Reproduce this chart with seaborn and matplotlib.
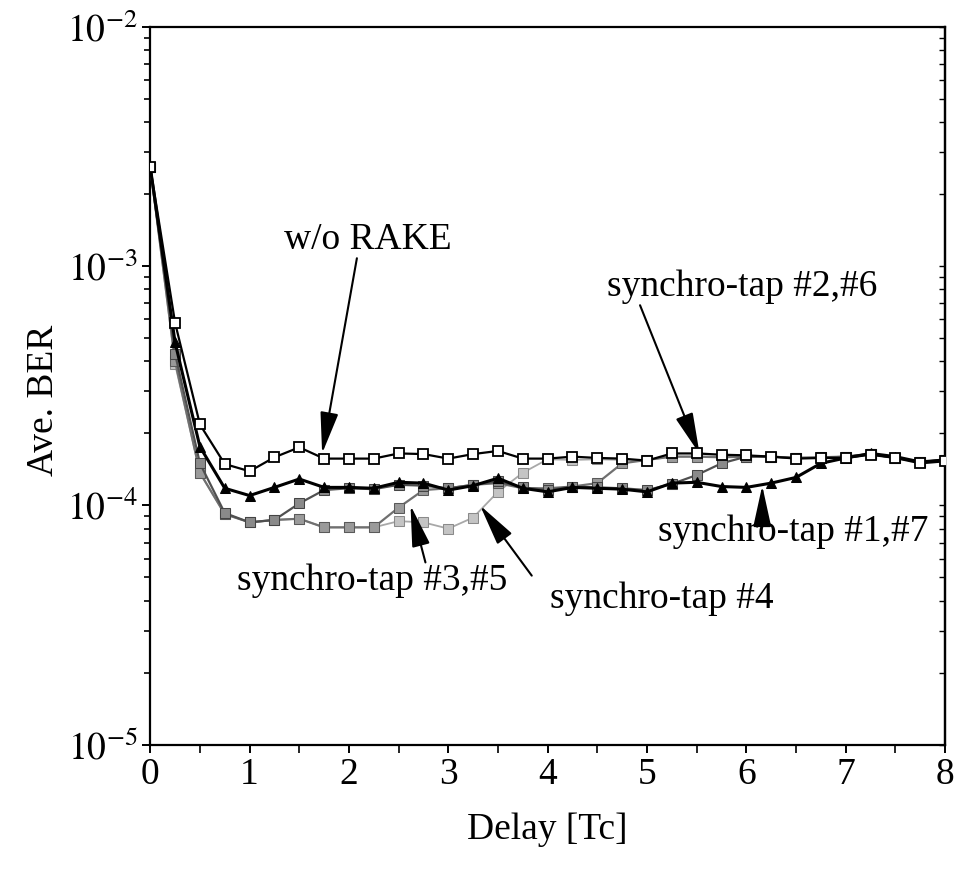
import numpy as np
import pandas as pd
import matplotlib
matplotlib.use('Agg')
import matplotlib.pyplot as plt
from matplotlib.ticker import FixedLocator, FuncFormatter, LogLocator, NullFormatter
import seaborn as sns

# data (delay step 0.25 Tc)
delay = [i * 0.25 for i in range(33)]

wo_rake = [2.6e-3, 5.8e-4, 2.18e-4, 1.49e-4, 1.39e-4, 1.59e-4, 1.75e-4, 1.57e-4, 1.57e-4,
           1.57e-4, 1.65e-4, 1.64e-4, 1.57e-4, 1.64e-4, 1.69e-4, 1.57e-4, 1.57e-4, 1.60e-4,
           1.58e-4, 1.57e-4, 1.54e-4, 1.65e-4, 1.65e-4, 1.63e-4, 1.62e-4, 1.60e-4, 1.57e-4,
           1.58e-4, 1.58e-4, 1.63e-4, 1.58e-4, 1.50e-4, 1.53e-4]
tap_1_7 = [2.6e-3, 4.8e-4, 1.76e-4, 1.18e-4, 1.10e-4, 1.19e-4, 1.29e-4, 1.19e-4, 1.19e-4,
           1.18e-4, 1.25e-4, 1.24e-4, 1.16e-4, 1.21e-4, 1.30e-4, 1.18e-4, 1.14e-4, 1.19e-4,
           1.18e-4, 1.17e-4, 1.14e-4, 1.24e-4, 1.25e-4, 1.20e-4, 1.19e-4, 1.24e-4, 1.31e-4,
           1.50e-4, 1.58e-4, 1.65e-4, 1.60e-4, 1.52e-4, 1.55e-4]
tap_2_6 = [2.6e-3, 4.3e-4, 1.50e-4, 9.3e-5, 8.5e-5, 8.7e-5, 1.02e-4, 1.16e-4, 1.18e-4,
           1.17e-4, 1.22e-4, 1.21e-4, 1.18e-4, 1.22e-4, 1.26e-4, 1.19e-4, 1.16e-4, 1.20e-4,
           1.19e-4, 1.18e-4, 1.16e-4, 1.23e-4, 1.34e-4, 1.50e-4, 1.60e-4, 1.60e-4, 1.58e-4,
           1.59e-4, 1.60e-4, 1.64e-4, 1.58e-4, 1.52e-4, 1.55e-4]
tap_3_5 = [2.6e-3, 4.0e-4, 1.37e-4, 9.2e-5, 8.5e-5, 8.7e-5, 8.8e-5, 8.1e-5, 8.1e-5,
           8.1e-5, 9.8e-5, 1.16e-4, 1.18e-4, 1.22e-4, 1.24e-4, 1.18e-4, 1.18e-4, 1.20e-4,
           1.24e-4, 1.50e-4, 1.55e-4, 1.60e-4, 1.60e-4, 1.59e-4, 1.60e-4, 1.60e-4, 1.58e-4,
           1.58e-4, 1.60e-4, 1.64e-4, 1.58e-4, 1.52e-4, 1.55e-4]
tap_4 = [2.6e-3, 3.9e-4, 1.37e-4, 9.2e-5, 8.5e-5, 8.7e-5, 8.8e-5, 8.1e-5, 8.1e-5,
         8.1e-5, 8.6e-5, 8.5e-5, 8.0e-5, 8.9e-5, 1.14e-4, 1.37e-4, 1.56e-4, 1.55e-4,
         1.56e-4, 1.55e-4, 1.55e-4, 1.60e-4, 1.60e-4, 1.60e-4, 1.60e-4, 1.60e-4, 1.58e-4,
         1.58e-4, 1.60e-4, 1.64e-4, 1.58e-4, 1.52e-4, 1.55e-4]

sns.set_style('ticks')
plt.rcParams['font.family'] = ['Liberation Serif', 'DejaVu Serif']
plt.rcParams['mathtext.fontset'] = 'stix'
for key in ['text.color', 'axes.labelcolor', 'xtick.color', 'ytick.color', 'axes.edgecolor']:
    plt.rcParams[key] = 'black'

fig = plt.figure(figsize=(9.57, 8.71), dpi=100)
ax = fig.add_axes([0.157, 0.145, 0.9875 - 0.157, 0.969 - 0.145])

# light curves first, dark ones on top
sns.lineplot(x=delay, y=tap_4, ax=ax, color='#a8a8a8', lw=1.3, marker='s', ms=7,
             markerfacecolor='#c4c4c4', markeredgecolor='#8a8a8a', zorder=2)
sns.lineplot(x=delay, y=tap_3_5, ax=ax, color='#707070', lw=1.6, marker='s', ms=7,
             markerfacecolor='#9a9a9a', markeredgecolor='#5a5a5a', zorder=3)
sns.lineplot(x=delay, y=tap_2_6, ax=ax, color='#505050', lw=1.6, marker='s', ms=7,
             markerfacecolor='#8a8a8a', markeredgecolor='#444444', zorder=4)
sns.lineplot(x=delay, y=tap_1_7, ax=ax, color='black', lw=2.2, marker='^', ms=7,
             markerfacecolor='black', markeredgecolor='black', zorder=5)
sns.lineplot(x=delay, y=wo_rake, ax=ax, color='black', lw=1.6, marker='s', ms=7,
             markerfacecolor='white', markeredgecolor='black', markeredgewidth=1.3, zorder=6)

ax.set_yscale('log')
ax.set_xlim(0, 8)
ax.set_ylim(1e-5, 1e-2)

ax.xaxis.set_major_locator(FixedLocator(range(9)))
ax.xaxis.set_minor_locator(FixedLocator([i + 0.5 for i in range(8)]))
ax.yaxis.set_major_locator(LogLocator(base=10, numticks=10))
ax.yaxis.set_minor_locator(LogLocator(base=10, subs=np.arange(2, 10), numticks=20))
ax.yaxis.set_minor_formatter(NullFormatter())
ax.yaxis.set_major_formatter(FuncFormatter(lambda v, p: r'$10^{%d}$' % round(np.log10(v))))

ax.tick_params(axis='both', which='major', labelsize=27, length=6, width=1.4, direction='out', pad=3)
ax.tick_params(axis='x', which='minor', length=6, width=1.2, direction='out')
ax.tick_params(axis='y', which='minor', length=4, width=1.2, direction='out')
for sp in ax.spines.values():
    sp.set_linewidth(1.6)

# small inward ticks on the right frame
right = ax.secondary_yaxis('right')
right.yaxis.set_major_locator(LogLocator(base=10, numticks=10))
right.yaxis.set_minor_locator(LogLocator(base=10, subs=np.arange(2, 10), numticks=20))
right.tick_params(which='both', direction='in', length=4, width=1.0, labelright=False)
right.spines['right'].set_linewidth(1.6)

ax.set_xlabel('Delay [Tc]', fontsize=27)
ax.set_ylabel('Ave. BER', fontsize=27)
ax.xaxis.set_label_coords(0.5, -0.095)
ax.yaxis.set_label_coords(-0.112, 0.48)

# curve labels and arrows
arrow = dict(arrowstyle='-|>,head_length=1.6,head_width=0.35', color='black', lw=1.5,
             mutation_scale=16, shrinkA=0, shrinkB=0)
ax.text(2.19, 1.29e-3, 'w/o RAKE', fontsize=27, ha='center', va='center')
ax.annotate('', xy=(1.73, 1.65e-4), xytext=(2.08, 1.08e-3), arrowprops=arrow)
ax.text(5.96, 8.17e-4, 'synchro-tap #2,#6', fontsize=27, ha='center', va='center')
ax.annotate('', xy=(5.53, 1.64e-4), xytext=(4.93, 6.87e-4), arrowprops=arrow)
ax.text(6.47, 7.8e-5, 'synchro-tap #1,#7', fontsize=27, ha='center', va='center')
ax.annotate('', xy=(6.16, 1.21e-4), xytext=(6.16, 9.4e-5), arrowprops=arrow)
ax.text(2.23, 4.85e-5, 'synchro-tap #3,#5', fontsize=27, ha='center', va='center')
ax.annotate('', xy=(2.62, 1.0e-4), xytext=(2.77, 5.78e-5), arrowprops=arrow)
ax.text(5.15, 4.08e-5, 'synchro-tap #4', fontsize=27, ha='center', va='center')
ax.annotate('', xy=(3.32, 1.0e-4), xytext=(3.84, 5.09e-5), arrowprops=arrow)

fig.savefig('out.png', dpi=100)
